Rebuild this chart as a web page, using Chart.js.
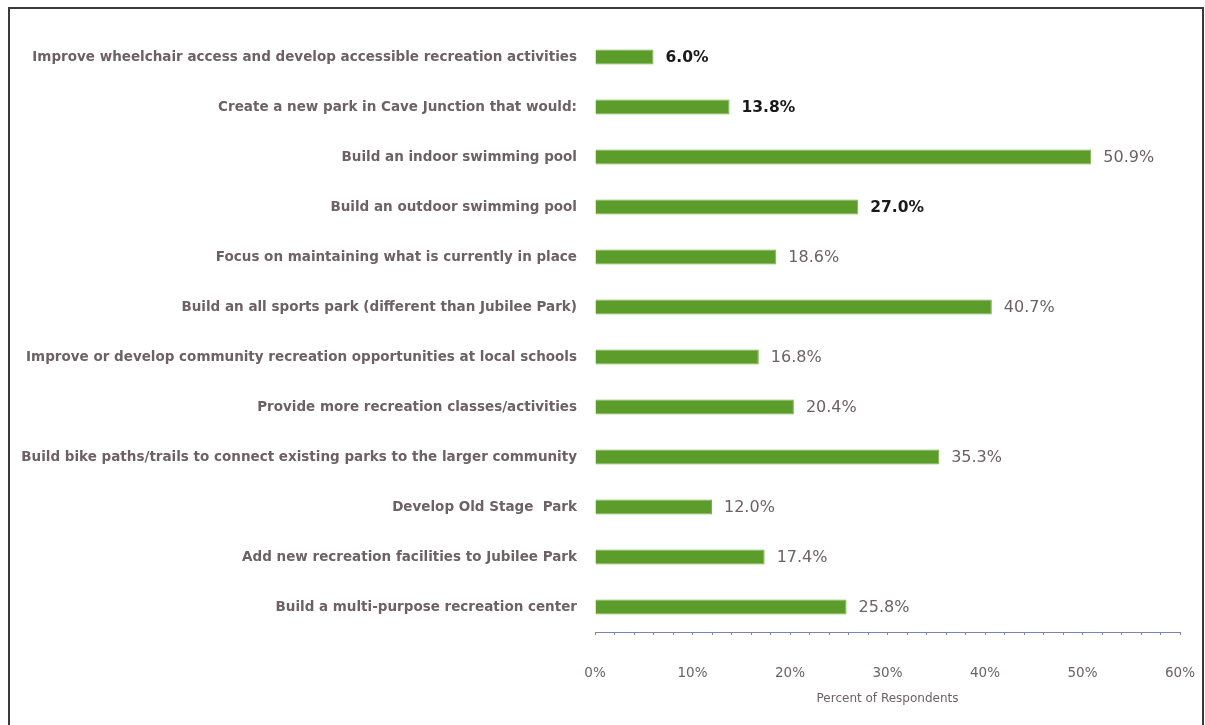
<!DOCTYPE html>
<html>
<head>
<meta charset="utf-8">
<script src="https://cdn.jsdelivr.net/npm/chart.js@4"></script>
<style>
    html, body { margin: 0; padding: 0; background: #fff; }
    #wrap { position: relative; width: 1205px; height: 725px; overflow: hidden; }
    #frame { position: absolute; left: 8px; top: 7px; width: 1196px; height: 730px; border: 2px solid #3a3a3a; box-sizing: border-box; }
    canvas { position: absolute; left: 0; top: 0; }
</style>
</head>
<body>
<div id="wrap">
    <div id="frame"></div>
    <canvas id="chart" width="1205" height="725"></canvas>
</div>
<script>
// survey answers, top to bottom as in the original
const categories = [
    'Improve wheelchair access and develop accessible recreation activities',
    'Create a new park in Cave Junction that would:',
    'Build an indoor swimming pool',
    'Build an outdoor swimming pool',
    'Focus on maintaining what is currently in place',
    'Build an all sports park (different than Jubilee Park)',
    'Improve or develop community recreation opportunities at local schools',
    'Provide more recreation classes/activities',
    'Build bike paths/trails to connect existing parks to the larger community',
    'Develop Old Stage  Park',
    'Add new recreation facilities to Jubilee Park',
    'Build a multi-purpose recreation center'
];
const percents = [6.0, 13.8, 50.9, 27.0, 18.6, 40.7, 16.8, 20.4, 35.3, 12.0, 17.4, 25.8];
const xTicks = [0, 10, 20, 30, 40, 50, 60];

// these three value labels are printed darker/bold in the source image
const darkLabels = [0, 1, 3];

const labelFont = '"DejaVu Sans", sans-serif';
const grey = '#6d6166';

const valueLabels = {
    id: 'valueLabels',
    afterDatasetsDraw(chart) {
        const ctx = chart.ctx;
        const meta = chart.getDatasetMeta(0);
        ctx.save();
        ctx.textBaseline = 'middle';
        ctx.textAlign = 'left';
        meta.data.forEach((bar, i) => {
            const txt = percents[i].toFixed(1) + '%';
            if (darkLabels.includes(i)) {
                ctx.font = 'bold 15.5px ' + labelFont;
                ctx.fillStyle = '#1a1a1a';
            } else {
                ctx.font = '16px ' + labelFont;
                ctx.fillStyle = grey;
            }
            ctx.fillText(txt, bar.x + 12, bar.y + 1);
        });
        ctx.restore();
    }
};

new Chart(document.getElementById('chart'), {
    type: 'bar',
    data: {
        labels: categories,
        datasets: [{
            data: percents,
            backgroundColor: '#5c9c2b',
            borderColor: '#79b343',
            borderWidth: 1,
            barPercentage: 0.6,
            categoryPercentage: 0.5
        }]
    },
    options: {
        indexAxis: 'y',
        responsive: false,
        animation: false,
        layout: { padding: { top: 32, right: 25, left: 0, bottom: 0 } },
        plugins: { legend: { display: false }, tooltip: { enabled: false } },
        scales: {
            y: {
                grid: { display: false, drawTicks: false },
                border: { display: false },
                ticks: { color: grey, font: { family: labelFont, size: 13.5, weight: 'bold' }, padding: 18 },
                afterFit: s => { s.width = 595; }
            },
            x: {
                min: 0,
                max: 60,
                afterBuildTicks: s => {
                    const t = [];
                    for (let v = 0; v <= 60; v += 2) t.push({ value: v });
                    s.ticks = t;
                },
                ticks: {
                    color: grey,
                    font: { family: labelFont, size: 13.5 },
                    padding: 30,
                    maxRotation: 0,
                    autoSkip: false,
                    callback: v => xTicks.includes(v) ? v + '%' : ''
                },
                grid: { drawOnChartArea: false, drawTicks: true, tickLength: 3, color: '#7f82b8' },
                border: { display: true, color: '#7f82b8', width: 1 },
                title: {
                    display: true,
                    text: 'Percent of Respondents',
                    color: grey,
                    font: { family: labelFont, size: 12 },
                    padding: { top: 0, bottom: 19 }
                },
                afterFit: s => {
                    s.height = 93;
                    s.paddingLeft = 0;
                    s.paddingRight = 0;
                }
            }
        }
    },
    plugins: [valueLabels]
});
</script>
</body>
</html>
